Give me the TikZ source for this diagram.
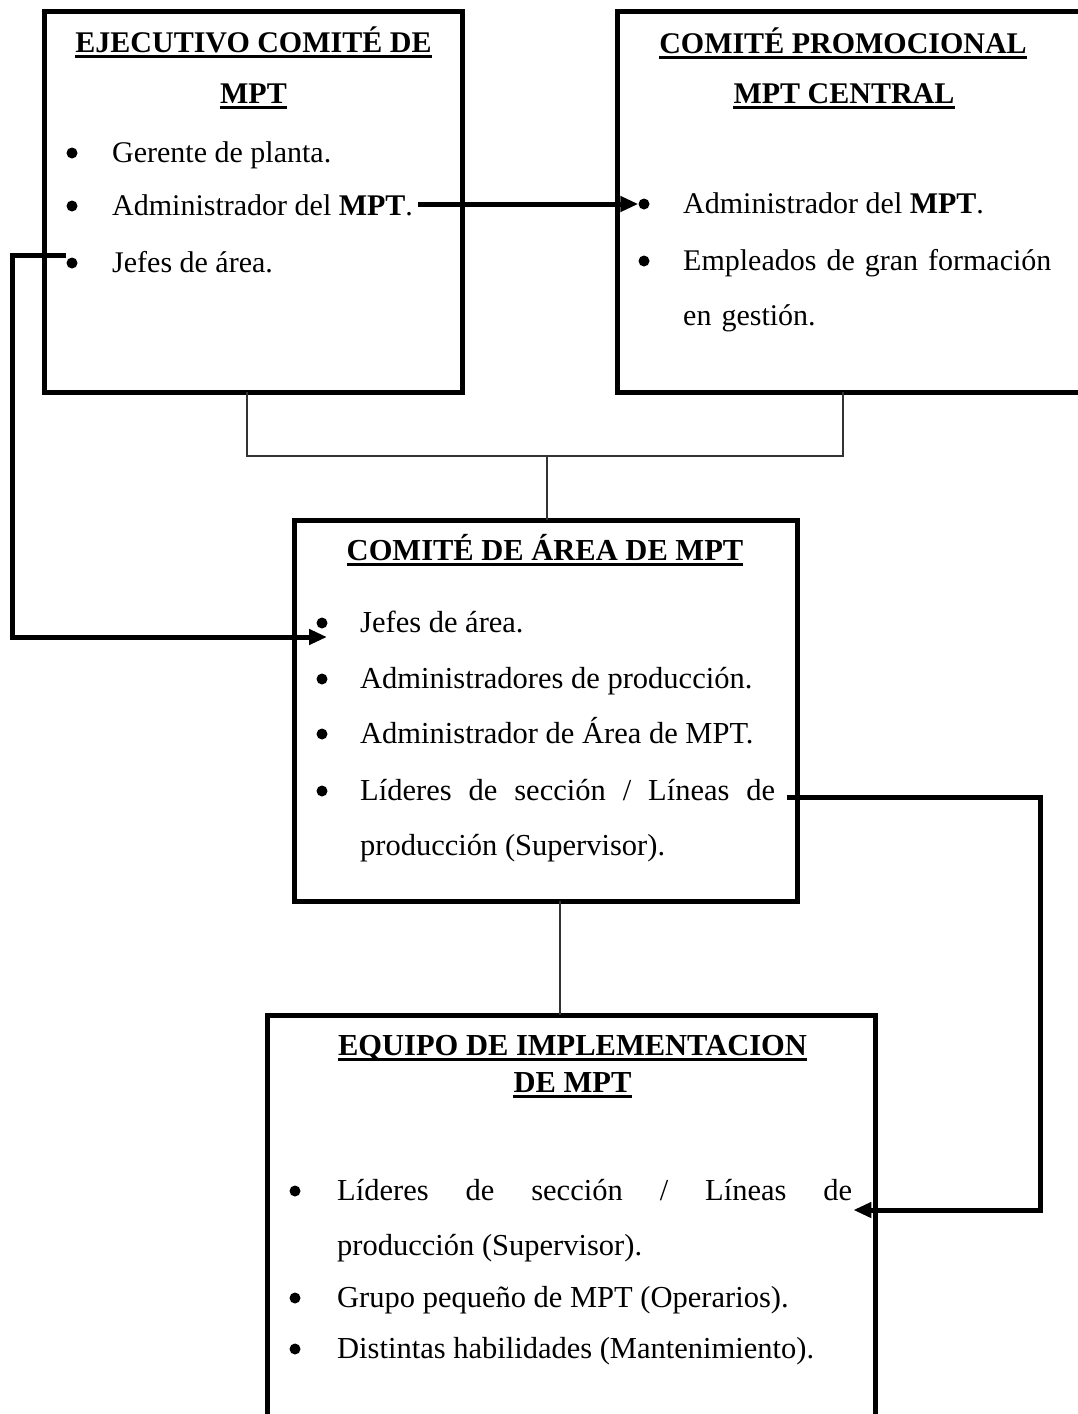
\documentclass[tikz,border=0pt]{standalone}
\usepackage{fontspec}
\setmainfont{Liberation Serif}
\usetikzlibrary{arrows.meta}
\tolerance=10000
\hbadness=10000

% underlined bold heading line: [extra style]{name}{x}{y}{text}
\newcommand{\ulheading}[5][]{%
  \node[head,#1] (#2) at (#3,#4) {#5};
  \draw[uline] ([yshift=-4.5pt]#2.base west) -- ([yshift=-4.5pt]#2.base east);}

\begin{document}
\begin{tikzpicture}[x=1pt,y=-1pt,
  box/.style={draw, line width=5pt, inner sep=0pt, outer sep=0pt},
  head/.style={font=\fontsize{30}{36}\selectfont\bfseries, anchor=base, inner sep=0pt},
  bighead/.style={font=\fontsize{30.5}{36}\selectfont\bfseries},
  item/.style={anchor=base west, inner sep=0pt, font=\fontsize{30}{55}\selectfont},
  bigitem/.style={item, font=\fontsize{30.5}{55}\selectfont},
  dot/.style={circle, fill, inner sep=0pt, minimum size=11pt},
  uline/.style={line width=3pt},
  tie/.style={line width=1.3pt, draw=black!80},
  linkarrow/.style={line width=5pt, -{Triangle[length=18pt,width=15pt]}},
]
\useasboundingbox (0,0) rectangle (1078,1414);
\clip (0,0) rectangle (1078,1414);

% committee boxes
\node[box, minimum width=418pt, minimum height=381pt] (A) at (253,201.5) {};
\node[box, minimum width=483pt, minimum height=381pt] (B) at (858.5,201.5) {};
\node[box, minimum width=503pt, minimum height=381pt] (C) at (545.5,710.5) {};
\node[box, minimum width=608pt, minimum height=435pt] (D) at (571,1232.5) {};

% headings
\ulheading{hA1}{253.5}{52}{EJECUTIVO COMITÉ DE}
\ulheading{hA2}{253.5}{103}{MPT}
\ulheading{hB1}{843}{53}{COMITÉ PROMOCIONAL}
\ulheading{hB2}{844}{103}{MPT CENTRAL}
\ulheading[bighead]{hC}{545}{560}{COMITÉ DE ÁREA DE MPT}
\ulheading[bighead]{hD1}{572.5}{1055}{EQUIPO DE IMPLEMENTACION}
\ulheading[bighead]{hD2}{572.5}{1092}{DE MPT}

% bullets
\node[dot] (ab1) at (72,153) {};
\node[dot] (ab2) at (72,206) {};
\node[dot] (ab3) at (72,263) {};
\node[dot] (bb1) at (644,204) {};
\node[dot] (bb2) at (644,261) {};
\node[dot] (cb1) at (322,623) {};
\node[dot] (cb2) at (322,679) {};
\node[dot] (cb3) at (322,734) {};
\node[dot] (cb4) at (322,791) {};
\node[dot] (db1) at (295,1191) {};
\node[dot] (db2) at (295,1298) {};
\node[dot] (db3) at (295,1349) {};

% list items
\node[item] (a1) at (112,162) {Gerente de planta.};
\node[item] (a2) at (112,215) {Administrador del \textbf{MPT}.};
\node[item] (a3) at (112,272) {Jefes de área.};

\node[item] (b1) at (683,213) {Administrador del \textbf{MPT}.};
\node[item, text width=390pt, align=left] (b2) at (683,270) {Empleados de gran formación\\en gestión.};

\node[bigitem] (c1) at (360,632) {Jefes de área.};
\node[bigitem] (c2) at (360,688) {Administradores de producción.};
\node[bigitem] (c3) at (360,743) {Administrador de Área de MPT.};
\node[bigitem, text width=415pt, align=justify] (c4) at (360,800)
  {Líderes de sección / Líneas de\break producción (Supervisor).};

\node[bigitem, text width=515pt, align=justify] (d1) at (337,1200)
  {Líderes de sección / Líneas de\break producción (Supervisor).};
\node[bigitem] (d2) at (337,1307) {Grupo pequeño de MPT (Operarios).};
\node[bigitem] (d3) at (337,1358) {Distintas habilidades (Mantenimiento).};

% thin hierarchy lines
\coordinate (busL) at (247,456);
\coordinate (busR) at (843,456);
\coordinate (busM) at (547,456);
\coordinate (stem) at (560,960);
\draw[tie] (A.south -| busL) -- (busL) -- (busR) -- (B.south -| busR);
\draw[tie] (busM) -- (C.north -| busM);
\draw[tie] (C.south -| stem) -- (D.north -| stem);

% thick membership arrows
\draw[linkarrow] ([xshift=5pt]a2.east |- bb1.west) -- (bb1.west);
\coordinate (jL) at (12,637);
\draw[linkarrow] ([yshift=8pt]ab3.west) -| (jL) -- ([xshift=5pt]cb1.center |- jL);
\coordinate (rR) at (1040,1210);
\draw[linkarrow] ([xshift=12pt,yshift=3pt]c4.base east) -| (rR) -- ([xshift=1pt,yshift=-10pt]d1.base east);
\end{tikzpicture}
\end{document}
